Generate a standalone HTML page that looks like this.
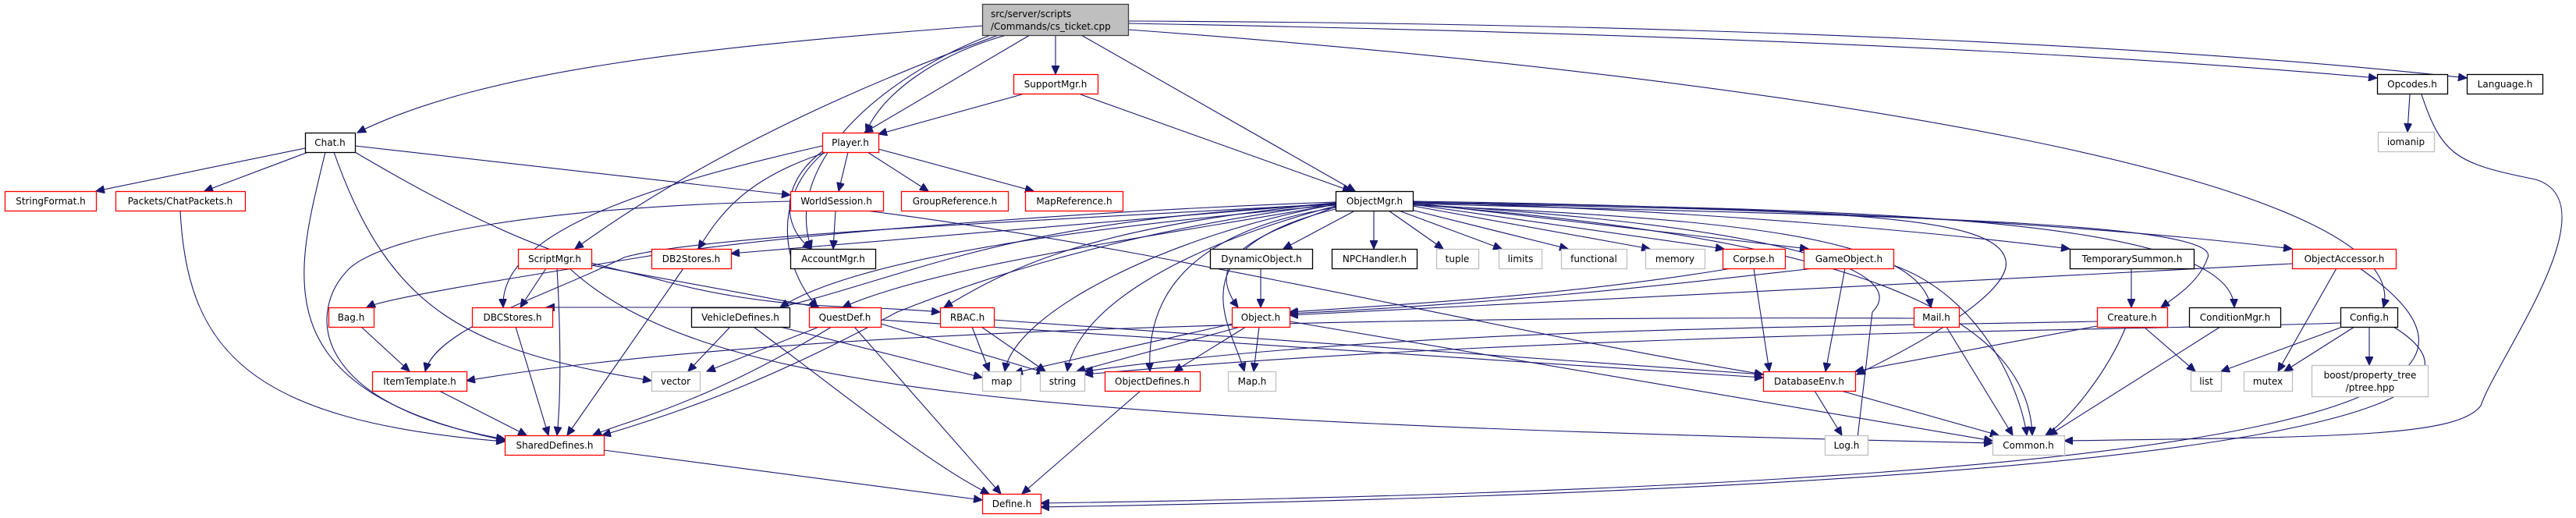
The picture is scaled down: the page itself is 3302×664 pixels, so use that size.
<!DOCTYPE html>
<html><head><meta charset="utf-8"><style>
html,body{margin:0;padding:0;background:#fff;}
svg{display:block;}
text{font-family:"DejaVu Sans","Liberation Sans",sans-serif;font-size:12px;fill:#000;text-anchor:middle;}
.r{fill:#fff;stroke:#ff0000;stroke-width:1.3;}
.b{fill:#fff;stroke:#000;stroke-width:1.3;}
.g{fill:#fff;stroke:#bfbfbf;stroke-width:1.3;}
path{fill:none;stroke:#191970;stroke-width:1.1;marker-end:url(#a);}
</style></head><body>
<svg width="3302" height="664" viewBox="0 0 3302 664" xmlns="http://www.w3.org/2000/svg">
<defs><marker id="a" markerUnits="userSpaceOnUse" markerWidth="12" markerHeight="10" refX="11" refY="5" orient="auto"><path d="M0,0 L11,5 L0,10 Z" style="fill:#191970;stroke:#191970;marker-end:none"/></marker></defs>

<!-- edges -->
<path d="M1260,33 C900,60 620,90 458,170"/>
<path d="M1280,45 C1100,110 900,200 737,319"/>
<path d="M1270,45 C1150,90 1000,200 1040,319"/>
<path d="M1320,45 L1108,170"/>
<path d="M1290,45 C1200,70 1130,120 1110,170"/>
<path d="M1353,45 L1353,95"/>
<path d="M1386,45 L1737,245"/>
<path d="M1446,30 C2000,40 2600,60 3047,100"/>
<path d="M1446,27 C2200,30 2800,60 3162,100"/>
<path d="M1446,38 C2300,100 3100,230 3055,394"/>
<path d="M1310,121 L1126,172"/>
<path d="M1385,121 L1732,245"/>
<path d="M391,190 L123,245"/>
<path d="M395,195 L262,245"/>
<path d="M455,187 L1013,250"/>
<path d="M417,195 C380,350 330,500 650,565"/>
<path d="M428,195 C500,400 600,450 835,488"/>
<path d="M455,195 C700,340 780,340 850,360 C1000,400 1100,390 1205,400"/>
<path d="M231,270 C240,450 320,540 647,566"/>
<path d="M1087,195 L1075,245"/>
<path d="M1060,195 C950,230 920,280 895,319"/>
<path d="M1112,195 L1190,245"/>
<path d="M1126,191 L1325,245"/>
<path d="M1057,195 C990,250 1000,340 1048,394"/>
<path d="M1060,190 C1000,230 1000,290 1040,319"/>
<path d="M1054,187 C820,240 640,300 645,394"/>
<path d="M1013,258 C700,265 500,300 449,343 C390,400 400,520 647,563"/>
<path d="M1071,270 L1068,319"/>
<path d="M1110,270 C1500,320 1900,420 2260,480"/>
<path d="M700,344 L667,394"/>
<path d="M714,344 C720,450 718,520 714,558"/>
<path d="M758,340 L1050,394"/>
<path d="M730,344 C900,500 1300,540 2554,568"/>
<path d="M876,344 L727,558"/>
<path d="M463,419 L525,476"/>
<path d="M661,419 L703,558"/>
<path d="M563,501 L675,558"/>
<path d="M936,419 L882,476"/>
<path d="M966,419 C1100,520 1200,600 1268,633"/>
<path d="M1000,419 L1259,484"/>
<path d="M1050,419 L906,476"/>
<path d="M1066,419 C900,520 800,540 760,558"/>
<path d="M1095,419 L1283,633"/>
<path d="M1129,415 L1340,478"/>
<path d="M1129,410 C1600,440 2000,470 2260,484"/>
<path d="M1246,419 L1268,476"/>
<path d="M1258,419 L1340,476"/>
<path d="M1274,410 C1700,440 2000,460 2260,480"/>
<path d="M1580,415 L1300,478"/>
<path d="M1590,419 L1380,476"/>
<path d="M1597,419 L1505,476"/>
<path d="M1614,419 L1607,476"/>
<path d="M1653,412 L2554,565"/>
<path d="M1462,501 L1310,633"/>
<path d="M1616,344 L1616,394"/>
<path d="M1737,270 L1645,319"/>
<path d="M1761,270 L1761,319"/>
<path d="M1780,270 L1850,319"/>
<path d="M1793,270 L1925,319"/>
<path d="M1805,268 L2010,319"/>
<path d="M1811,264 L2115,319"/>
<path d="M1811,262 L2210,319"/>
<path d="M1811,260 L2318,319"/>
<path d="M1811,259 C2200,270 2500,300 2653,319"/>
<path d="M1811,258 C2300,265 2700,290 2938,319"/>
<path d="M1811,263 C2200,280 2460,300 2475,394"/>
<path d="M1811,260 C2300,270 2550,270 2570,330 C2590,380 2400,470 2380,480"/>
<path d="M1811,261 C2300,275 2850,280 2830,330 C2820,360 2790,380 2770,394"/>
<path d="M1811,259 C2300,268 2860,270 2864,394"/>
<path d="M1811,262 C2300,290 2450,350 2400,400 L2380,570"/>
<path d="M1811,262 C2300,300 2600,380 2605,558"/>
<path d="M1712,265 C1650,290 1530,320 1587,394"/>
<path d="M1712,262 C1500,300 1300,400 1288,476"/>
<path d="M1712,264 C1500,320 1380,400 1368,476"/>
<path d="M1712,266 C1500,300 1470,400 1474,476"/>
<path d="M1712,268 C1500,320 1580,420 1595,476"/>
<path d="M1712,260 L937,325"/>
<path d="M1712,259 C1400,270 1000,300 820,330 C700,350 500,380 470,394"/>
<path d="M1712,261 C1400,280 900,300 800,330 C700,380 560,420 545,476"/>
<path d="M1712,263 C1400,290 1100,330 1000,394"/>
<path d="M1712,262 C1500,300 1200,340 1080,394"/>
<path d="M1712,260 C1400,290 1300,340 1210,394"/>
<path d="M1712,261 C1400,300 1200,380 1150,400 C1000,480 900,520 772,558"/>
<path d="M1712,262 C1300,280 1180,350 1000,394 L700,394"/>
<path d="M2248,344 L2268,476"/>
<path d="M2220,344 C2000,380 1800,390 1653,400"/>
<path d="M2325,344 C2100,370 1900,390 1653,402"/>
<path d="M2365,344 L2340,476"/>
<path d="M2427,340 C2540,380 2590,500 2598,558"/>
<path d="M2732,344 L2732,394"/>
<path d="M2938,338 C2500,360 2000,390 1653,404"/>
<path d="M2995,344 L2920,476"/>
<path d="M3025,344 C3250,500 3050,620 1334,645"/>
<path d="M2495,419 L2580,558"/>
<path d="M2453,408 C1800,405 1000,420 598,488"/>
<path d="M2725,419 C2700,480 2650,540 2622,558"/>
<path d="M2748,419 L2814,476"/>
<path d="M2688,418 L2378,476"/>
<path d="M2688,412 C2300,420 1800,420 1390,476"/>
<path d="M2846,419 L2626,558"/>
<path d="M3000,420 L2847,476"/>
<path d="M3018,419 L2928,476"/>
<path d="M3037,419 L3037,468"/>
<path d="M3068,419 C3200,500 3100,620 1334,650"/>
<path d="M3000,414 C2700,425 2000,425 1390,480"/>
<path d="M2326,501 L2361,558"/>
<path d="M2360,501 L2562,558"/>
<path d="M774,577 L1259,641"/>
<path d="M3089,121 L3086,169"/>
<path d="M3104,121 C3130,200 3150,210 3250,230 C3350,260 3200,460 3180,520 C3150,560 3000,560 2646,565"/>

<!-- nodes -->
<rect x="1259.5" y="5.5" width="187" height="40" style="fill:#bfbfbf;stroke:#404040;stroke-width:1.3"/>
<text x="1270" y="22" style="text-anchor:start">src/server/scripts</text>
<text x="1270" y="38" style="text-anchor:start">/Commands/cs_ticket.cpp</text>

<g>
<rect class="r" x="1299.5" y="95.5" width="108" height="25"/><text x="1353" y="112">SupportMgr.h</text>
<rect class="b" x="3047.5" y="95.5" width="90" height="25"/><text x="3092" y="112">Opcodes.h</text>
<rect class="b" x="3162.5" y="95.5" width="97" height="25"/><text x="3211" y="112">Language.h</text>
<rect class="b" x="391.5" y="170.5" width="64" height="25"/><text x="423" y="187">Chat.h</text>
<rect class="r" x="1054.5" y="170.5" width="72" height="25"/><text x="1090" y="187">Player.h</text>
<rect class="g" x="3048.5" y="169.5" width="72" height="25"/><text x="3084" y="186">iomanip</text>

<rect class="r" x="6.5" y="245.5" width="117" height="25"/><text x="65" y="262">StringFormat.h</text>
<rect class="r" x="148.5" y="245.5" width="166" height="25"/><text x="231" y="262">Packets/ChatPackets.h</text>
<rect class="r" x="1013.5" y="245.5" width="119" height="25"/><text x="1072" y="262">WorldSession.h</text>
<rect class="r" x="1155.5" y="245.5" width="137" height="25"/><text x="1224" y="262">GroupReference.h</text>
<rect class="r" x="1314.5" y="245.5" width="125" height="25"/><text x="1377" y="262">MapReference.h</text>
<rect class="b" x="1712.5" y="245.5" width="99" height="25"/><text x="1762" y="262">ObjectMgr.h</text>

<rect class="r" x="664.5" y="319.5" width="94" height="25"/><text x="711" y="336">ScriptMgr.h</text>
<rect class="r" x="835.5" y="319.5" width="102" height="25"/><text x="886" y="336">DB2Stores.h</text>
<rect class="b" x="1013.5" y="319.5" width="109" height="25"/><text x="1068" y="336">AccountMgr.h</text>
<rect class="b" x="1551.5" y="319.5" width="131" height="25"/><text x="1617" y="336">DynamicObject.h</text>
<rect class="b" x="1707.5" y="319.5" width="109" height="25"/><text x="1762" y="336">NPCHandler.h</text>
<rect class="g" x="1841.5" y="319.5" width="54" height="25"/><text x="1868" y="336">tuple</text>
<rect class="g" x="1921.5" y="319.5" width="55" height="25"/><text x="1949" y="336">limits</text>
<rect class="g" x="2001.5" y="319.5" width="84" height="25"/><text x="2043" y="336">functional</text>
<rect class="g" x="2109.5" y="319.5" width="76" height="25"/><text x="2147" y="336">memory</text>
<rect class="r" x="2208.5" y="319.5" width="80" height="25"/><text x="2248" y="336">Corpse.h</text>
<rect class="r" x="2312.5" y="319.5" width="115" height="25"/><text x="2370" y="336">GameObject.h</text>
<rect class="b" x="2653.5" y="319.5" width="159" height="25"/><text x="2733" y="336">TemporarySummon.h</text>
<rect class="r" x="2938.5" y="319.5" width="133" height="25"/><text x="3005" y="336">ObjectAccessor.h</text>

<rect class="r" x="421.5" y="394.5" width="58" height="25"/><text x="450" y="411">Bag.h</text>
<rect class="r" x="605.5" y="394.5" width="103" height="25"/><text x="657" y="411">DBCStores.h</text>
<rect class="b" x="886.5" y="394.5" width="126" height="25"/><text x="949" y="411">VehicleDefines.h</text>
<rect class="r" x="1037.5" y="394.5" width="92" height="25"/><text x="1083" y="411">QuestDef.h</text>
<rect class="r" x="1205.5" y="394.5" width="69" height="25"/><text x="1240" y="411">RBAC.h</text>
<rect class="r" x="1579.5" y="394.5" width="74" height="25"/><text x="1616" y="411">Object.h</text>
<rect class="r" x="2453.5" y="394.5" width="58" height="25"/><text x="2482" y="411">Mail.h</text>
<rect class="r" x="2688.5" y="394.5" width="90" height="25"/><text x="2733" y="411">Creature.h</text>
<rect class="b" x="2806.5" y="394.5" width="117" height="25"/><text x="2865" y="411">ConditionMgr.h</text>
<rect class="b" x="3000.5" y="394.5" width="73" height="25"/><text x="3037" y="411">Config.h</text>

<rect class="r" x="477.5" y="476.5" width="121" height="25"/><text x="538" y="493">ItemTemplate.h</text>
<rect class="g" x="835.5" y="476.5" width="62" height="25"/><text x="866" y="493">vector</text>
<rect class="g" x="1259.5" y="476.5" width="49" height="25"/><text x="1284" y="493">map</text>
<rect class="g" x="1333.5" y="476.5" width="57" height="25"/><text x="1362" y="493">string</text>
<rect class="r" x="1416.5" y="476.5" width="122" height="25"/><text x="1477" y="493">ObjectDefines.h</text>
<rect class="g" x="1574.5" y="476.5" width="61" height="25"/><text x="1605" y="493">Map.h</text>
<rect class="r" x="2260.5" y="476.5" width="118" height="25"/><text x="2319" y="493">DatabaseEnv.h</text>
<rect class="g" x="2808.5" y="476.5" width="39" height="25"/><text x="2828" y="493">list</text>
<rect class="g" x="2876.5" y="476.5" width="62" height="25"/><text x="2907" y="493">mutex</text>
<rect class="g" x="2963.5" y="468.5" width="149" height="40"/><text x="3038" y="485">boost/property_tree</text><text x="3038" y="501">/ptree.hpp</text>

<rect class="r" x="647.5" y="558.5" width="127" height="25"/><text x="711" y="575">SharedDefines.h</text>
<rect class="g" x="2339.5" y="558.5" width="55" height="25"/><text x="2367" y="575">Log.h</text>
<rect class="g" x="2554.5" y="558.5" width="92" height="25"/><text x="2600" y="575">Common.h</text>
<rect class="r" x="1259.5" y="633.5" width="75" height="25"/><text x="1297" y="650">Define.h</text>
</g>
</svg>
</body></html>
